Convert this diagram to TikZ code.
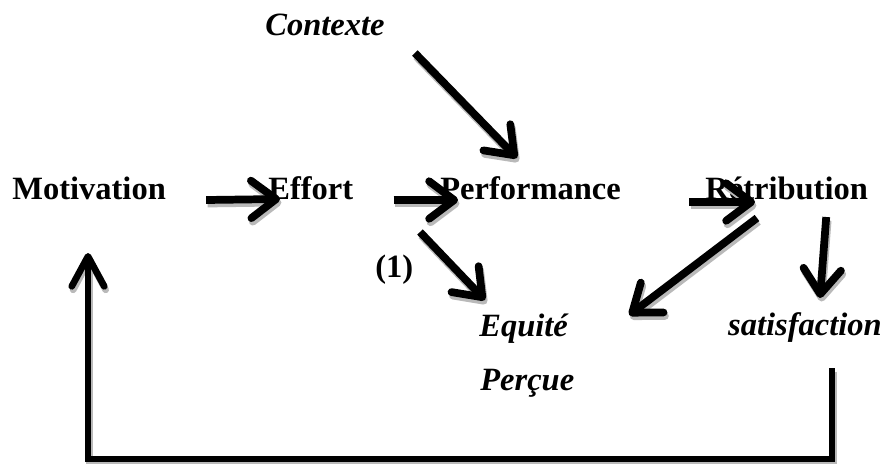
\documentclass[tikz,border=0pt]{standalone}
\usepackage{fontspec}
\setmainfont{Liberation Serif}
\usetikzlibrary{arrows.meta, positioning, calc}

\begin{document}
\begin{tikzpicture}[
    x=0.02cm, y=-0.02cm,
    every node/.style={font=\fontsize{18.5}{22}\selectfont\bfseries, inner sep=0pt},
    stage/.style={anchor=base west},
    factor/.style={font=\fontsize{18.5}{22}\selectfont\bfseries\itshape},
    bigarrow/.style={line width=4.4pt, -{Straight Barb[round, length=5mm, width=7.5mm]}},
    loop/.style={line width=3.8pt, -{Straight Barb[round, length=6mm, width=6.5mm]}}
]
\useasboundingbox (0,0) rectangle (888,463);

% Main chain
\node[stage] (motiv) at (12,199) {Motivation};
\node[stage] (effort) at (268,199) {Effort};
\node[stage] (perf) at (440,199) {Performance};
\node[stage] (retrib) at (705,199) {Rétribution};

% Context and outcomes
\node[stage, factor] (contexte) at (265,35) {Contexte};
\node[stage] (un) at (375,277) {(1)};
\node[stage, factor] (equite) at (479,336) {Equité};
\node[stage, factor] (percue) at (480,390) {Perçue};
\node[factor, anchor=base east] (satisf) at (882,335) {satisfaction};

% Arrows: gray shadow first, then black
\foreach \col/\dx/\dy in {gray!55/0.8pt/-2pt, black/0pt/0pt} {
\begin{scope}[color=\col, transform canvas={xshift=\dx, yshift=\dy}]
  % along the chain
  \draw[bigarrow] ($(motiv.base east)+(40,1)$) -- ($(effort.base west)+(12,0)$);
  \draw[bigarrow] ($(effort.base east)+(40,1)$) -- ($(perf.base west)+(18,1)$);
  \draw[bigarrow] ($(perf.base east)+(68,3)$) -- ($(retrib.base west)+(50,3)$);
  % to the outcomes
  \draw[bigarrow] ($(contexte.base east)+(30,18)$) -- ($(perf.base west)+(77,-41)$);
  \draw[bigarrow] ($(perf.base west)+(-20,33)$) -- ($(equite.base west)+(6,-36)$);
  \draw[bigarrow] ($(retrib.base west)+(52,19)$) -- ($(equite.base east)+(61,-21)$);
  \draw[bigarrow] ($(retrib.base east)+(-42,18)$) -- ($(satisf.base east)+(-62,-37)$);
  % feedback loop
  \draw[loop] ($(satisf.base east)+(-50,33)$) -- ++(0,91) -| ($(motiv.base west)+(76,54)$);
\end{scope}
}

\end{tikzpicture}
\end{document}
